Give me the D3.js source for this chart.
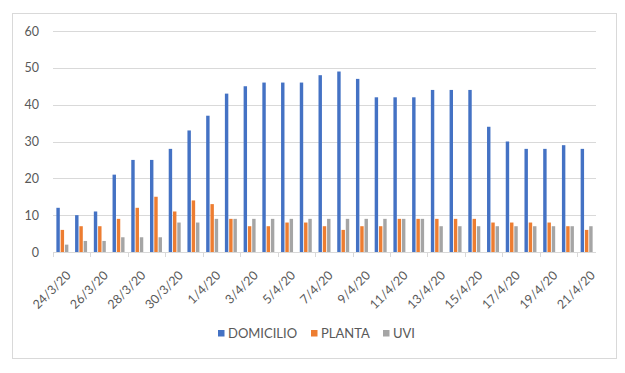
<!DOCTYPE html>
<html lang="es">
<head>
<meta charset="utf-8">
<title>Pacientes</title>
<script src="https://cdn.jsdelivr.net/npm/d3@7"></script>
<style>
  body { margin: 0; background: #fff; }
  text { font-family: Lato, "Open Sans", sans-serif; fill: #595959; }
</style>
</head>
<body>
<script>
// data
var dates = ["24/3/20","25/3/20","26/3/20","27/3/20","28/3/20","29/3/20","30/3/20","31/3/20",
  "1/4/20","2/4/20","3/4/20","4/4/20","5/4/20","6/4/20","7/4/20","8/4/20","9/4/20","10/4/20",
  "11/4/20","12/4/20","13/4/20","14/4/20","15/4/20","16/4/20","17/4/20","18/4/20","19/4/20",
  "20/4/20","21/4/20"];
var domicilio = [12,10,11,21,25,25,28,33,37,43,45,46,46,46,48,49,47,42,42,42,44,44,44,34,30,28,28,29,28];
var planta    = [6,7,7,9,12,15,11,14,13,9,7,7,8,8,7,6,7,7,9,9,9,9,9,8,8,8,8,7,6];
var uvi       = [2,3,3,4,4,4,8,8,9,9,9,9,9,9,9,9,9,9,9,9,7,7,7,7,7,7,7,7,7];
var seriesNames = ["DOMICILIO","PLANTA","UVI"];
var colors = ["#4472C4","#ED7D31","#A5A5A5"];
var yTicks = [0,10,20,30,40,50,60];

var width = 625, height = 373;
var plot = {left: 53, right: 596, top: 31, bottom: 252};

var svg = d3.select("body").append("svg")
    .attr("width", width)
    .attr("height", height);

svg.append("rect")
    .attr("width", width).attr("height", height)
    .attr("fill", "#fff");

// chart frame
svg.append("rect")
    .attr("x", 12.5).attr("y", 13.5)
    .attr("width", 604).attr("height", 345)
    .attr("fill", "none")
    .attr("stroke", "#D9D9D9");

var x0 = d3.scaleBand()
    .domain(dates)
    .range([plot.left, plot.right])
    .paddingInner(0.36)
    .paddingOuter(0.18);

var x1 = d3.scaleBand()
    .domain(seriesNames)
    .range([0, x0.bandwidth()])
    .paddingInner(0.2);

var y = d3.scaleLinear()
    .domain([0, 60])
    .range([plot.bottom, plot.top]);

// gridlines
svg.append("g")
    .selectAll("line")
    .data(yTicks.filter(function(d){ return d > 0; }))
    .enter().append("line")
    .attr("x1", plot.left).attr("x2", plot.right)
    .attr("y1", function(d){ return Math.round(y(d)) + 0.5; })
    .attr("y2", function(d){ return Math.round(y(d)) + 0.5; })
    .attr("stroke", "#D9D9D9");

// y labels
var yAxis = d3.axisLeft(y).tickValues(yTicks).tickSize(0).tickPadding(14);
var gy = svg.append("g")
    .attr("transform", "translate(" + plot.left + ",0)")
    .call(yAxis);
gy.select(".domain").remove();
gy.selectAll("text")
    .attr("font-size", "12.5px")
    .attr("fill", "#595959")
    .style("font-family", "Lato, sans-serif");

// bars
var series = [domicilio, planta, uvi];
var groups = svg.append("g")
    .selectAll("g")
    .data(series)
    .enter().append("g")
    .attr("fill", function(d, i){ return colors[i]; });

groups.selectAll("rect")
    .data(function(d, i){ return d.map(function(v, j){ return {s: seriesNames[i], date: dates[j], v: v}; }); })
    .enter().append("rect")
    .attr("x", function(d){ return x0(d.date) + x1(d.s); })
    .attr("width", x1.bandwidth())
    .attr("y", function(d){ return y(d.v); })
    .attr("height", function(d){ return y(0) - y(d.v); });

// x axis line and ticks (every 2 categories)
var step = x0.step();
svg.append("line")
    .attr("x1", plot.left).attr("x2", plot.right)
    .attr("y1", plot.bottom + 0.5).attr("y2", plot.bottom + 0.5)
    .attr("stroke", "#D9D9D9");

var labelIdx = d3.range(0, dates.length, 2);
svg.append("g")
    .selectAll("line")
    .data(labelIdx)
    .enter().append("line")
    .attr("x1", function(i){ return Math.round(plot.left + i * step) + 0.5; })
    .attr("x2", function(i){ return Math.round(plot.left + i * step) + 0.5; })
    .attr("y1", plot.bottom).attr("y2", plot.bottom + 5)
    .attr("stroke", "#D9D9D9");

svg.append("g")
    .selectAll("text")
    .data(labelIdx)
    .enter().append("text")
    .attr("transform", function(i){
        var cx = x0(dates[i]) + x0.bandwidth() / 2;
        return "translate(" + (cx + 3) + "," + (plot.bottom + 18) + ") rotate(-45)";
    })
    .attr("text-anchor", "end")
    .attr("dy", "0.7em")
    .attr("font-size", "12.5px")
    .text(function(i){ return dates[i]; });

// legend
var legendX = [218, 311, 383];
var legend = svg.append("g")
    .selectAll("g")
    .data(seriesNames)
    .enter().append("g")
    .attr("transform", function(d, i){ return "translate(" + legendX[i] + ",330)"; });

legend.append("rect")
    .attr("width", 6.5).attr("height", 6.5)
    .attr("fill", function(d, i){ return colors[i]; });

legend.append("text")
    .attr("x", 10)
    .attr("y", 3.5)
    .attr("dy", "0.35em")
    .attr("font-size", "13px")
    .text(function(d){ return d; });
</script>
</body>
</html>
